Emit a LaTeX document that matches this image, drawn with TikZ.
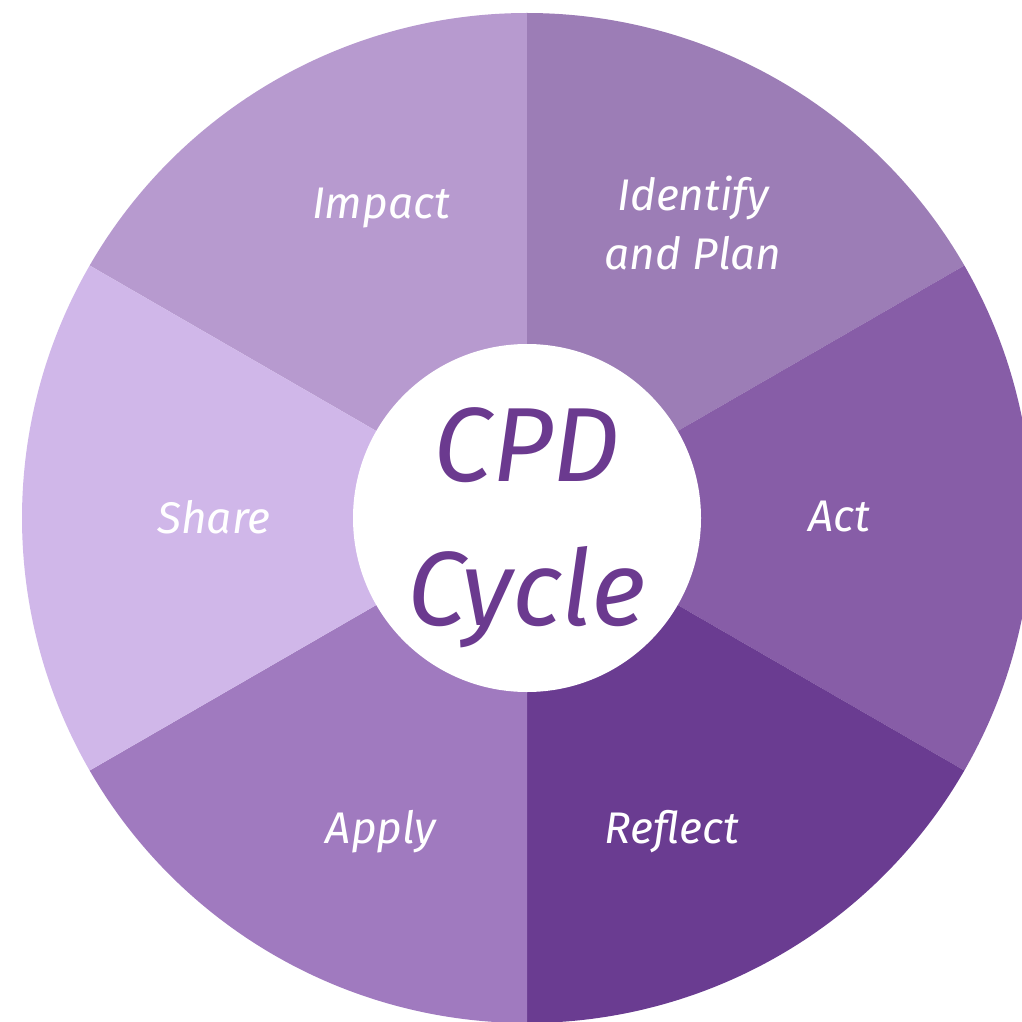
\documentclass[tikz,border=0pt]{standalone}
\usepackage{fontspec}
\setmainfont{Fira Sans}
\usepackage{xcolor}
\definecolor{impactc}{HTML}{B79ACF}
\definecolor{planc}{HTML}{9C7DB6}
\definecolor{actc}{HTML}{875DA7}
\definecolor{reflectc}{HTML}{6A3C91}
\definecolor{applyc}{HTML}{A07ABF}
\definecolor{sharec}{HTML}{D0B7E9}
\definecolor{titlec}{HTML}{6B3A8F}

\begin{document}
\begin{tikzpicture}[line cap=round,
  lbl/.style={text=white,font=\itshape\fontsize{12.6}{17}\selectfont,align=center},
  hub/.style={circle,fill=white,minimum size=3.48cm,inner sep=0pt}]
\useasboundingbox (0,0) rectangle (10.22,10.21);
\clip (0,0) rectangle (10.22,10.21);
\coordinate (c) at (5.27,5.03);
% the six wedges
\foreach \a/\col in {90/impactc,30/planc,-30/actc,-90/reflectc,-150/applyc,150/sharec}
  \fill[\col] (c) -- ++(\a:5.05) arc[start angle=\a,delta angle=60,radius=5.05] -- cycle;
\node[hub] (hub) at (c) {};
\node[text=titlec,font=\itshape\fontsize{30}{41}\selectfont,align=center] (title) at ([yshift=-0.1cm]hub.center) {CPD\\Cycle};
\node[lbl] (impact) at (3.81,8.13) {Impact};
\node[lbl] (plan) at (6.93,7.98) {Identify\\and Plan};
\node[lbl] (act) at (8.39,5.04) {Act};
\node[lbl] (reflect) at (6.72,1.89) {Reflect};
\node[lbl] (apply) at (3.81,1.89) {Apply};
\node[lbl] (share) at (2.14,5.04) {Share};
\end{tikzpicture}
\end{document}
